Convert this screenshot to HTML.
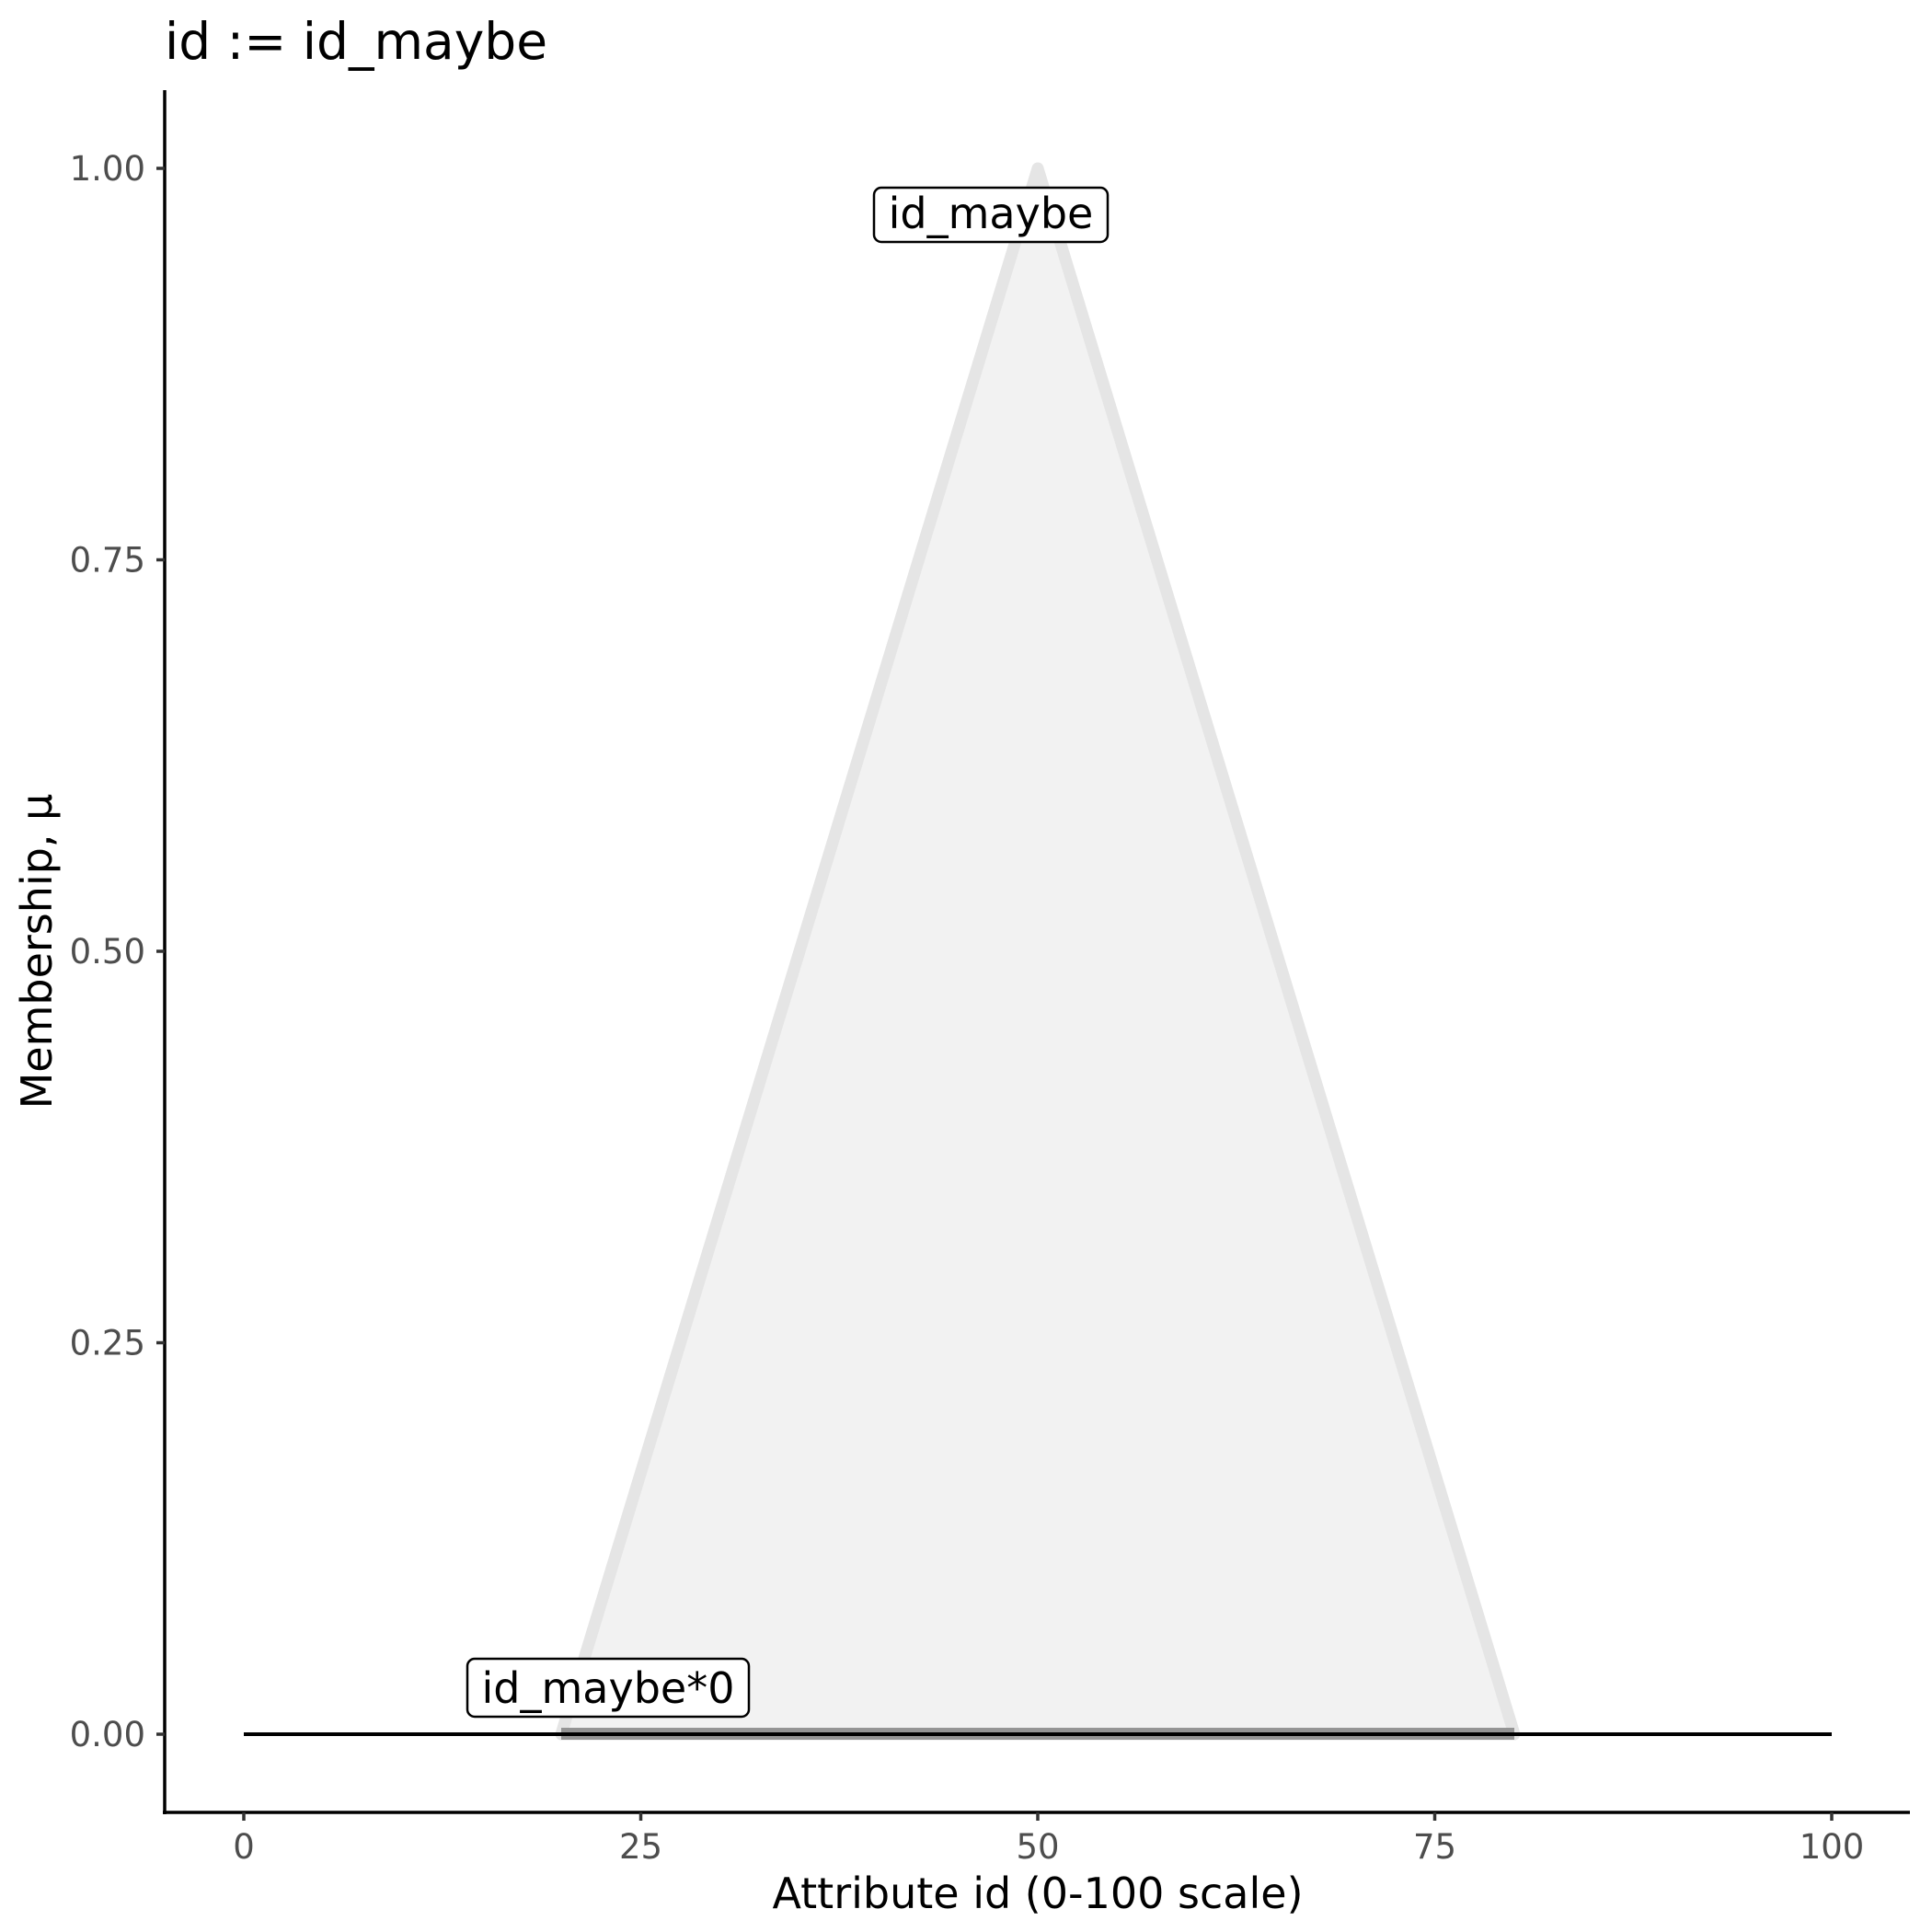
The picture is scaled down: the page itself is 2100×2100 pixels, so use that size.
<!DOCTYPE html>
<html><head><style>html,body{margin:0;padding:0;background:#fff;}svg{display:block;}</style></head>
<body>
<svg width="2100" height="2100" viewBox="0 0 2100 2100" xmlns="http://www.w3.org/2000/svg" font-family="DejaVu Sans, Liberation Sans, sans-serif">
<rect width="2100" height="2100" fill="#fff"/>
<polygon points="610,1885 1128,183 1646,1885" fill="#f2f2f2" stroke="#e5e5e5" stroke-width="13" stroke-linejoin="round"/>
<rect x="610" y="1878" width="1036" height="13" fill="#808080" opacity="0.8"/>
<line x1="265" y1="1885" x2="1991" y2="1885" stroke="#000" stroke-width="4"/>
<rect x="950" y="204" width="254" height="59" rx="8" fill="#fff" stroke="#000" stroke-width="2.5"/>
<text x="1077" y="248" font-size="46" text-anchor="middle">id_maybe</text>
<rect x="508" y="1803" width="306" height="63" rx="8" fill="#fff" stroke="#000" stroke-width="2.5"/>
<text x="661" y="1851" font-size="46" text-anchor="middle">id_maybe*0</text>
<line x1="179" y1="98" x2="179" y2="1972" stroke="#000" stroke-width="3.5"/>
<line x1="177" y1="1970" x2="2076" y2="1970" stroke="#000" stroke-width="3.5"/>
<g stroke="#333" stroke-width="3.5">
<line x1="170" y1="183" x2="179" y2="183"/>
<line x1="170" y1="608.5" x2="179" y2="608.5"/>
<line x1="170" y1="1034" x2="179" y2="1034"/>
<line x1="170" y1="1459.5" x2="179" y2="1459.5"/>
<line x1="170" y1="1885" x2="179" y2="1885"/>
<line x1="265" y1="1970" x2="265" y2="1979"/>
<line x1="696.5" y1="1970" x2="696.5" y2="1979"/>
<line x1="1128" y1="1970" x2="1128" y2="1979"/>
<line x1="1559.5" y1="1970" x2="1559.5" y2="1979"/>
<line x1="1991" y1="1970" x2="1991" y2="1979"/>
</g>
<g font-size="37" fill="#4d4d4d" text-anchor="end">
<text x="158" y="196">1.00</text>
<text x="158" y="621.5">0.75</text>
<text x="158" y="1047">0.50</text>
<text x="158" y="1472.5">0.25</text>
<text x="158" y="1898">0.00</text>
</g>
<g font-size="37" fill="#4d4d4d" text-anchor="middle">
<text x="265" y="2020">0</text>
<text x="696.5" y="2020">25</text>
<text x="1128" y="2020">50</text>
<text x="1559.5" y="2020">75</text>
<text x="1991" y="2020">100</text>
</g>
<text x="1128" y="2074" font-size="46" text-anchor="middle">Attribute id (0-100 scale)</text>
<text transform="translate(56,1034) rotate(-90)" font-size="46" text-anchor="middle">Membership, μ</text>
<text x="179" y="64" font-size="55">id := id_maybe</text>
</svg>
</body></html>
